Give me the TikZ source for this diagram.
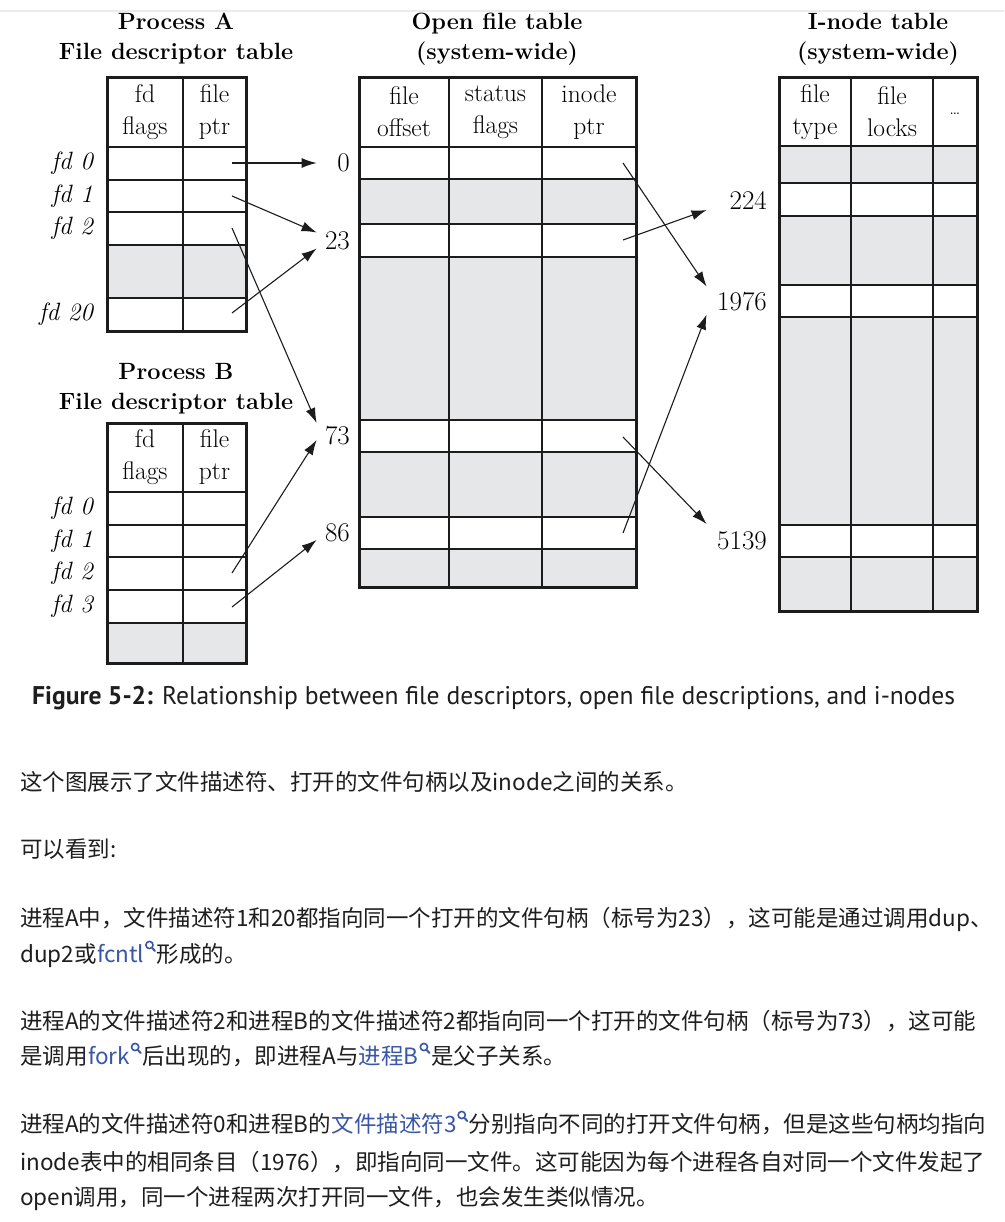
\documentclass[tikz,border=0pt]{standalone}
\usepackage{fontspec}
\usetikzlibrary{positioning,arrows.meta,calc}
\newfontfamily\cjk{Noto Sans CJK SC}
\newfontfamily\capfont{PT Sans}
\definecolor{cellgray}{RGB}{230,231,233}
\definecolor{linecol}{RGB}{28,28,28}
\definecolor{bodytext}{RGB}{30,30,30}
\definecolor{linkblue}{RGB}{57,87,166}

\begin{document}
\begin{tikzpicture}[x=1pt, y=-1pt,
    tabtitle/.style={font=\fontsize{23.5}{30}\selectfont\bfseries, align=center, inner sep=0pt},
    colhead/.style={font=\fontsize{25.5}{32}\selectfont, align=center, inner sep=0pt},
    fdlab/.style={font=\fontsize{25}{30}\selectfont\itshape, anchor=east, inner sep=0pt},
    idxl/.style={font=\fontsize{27}{30}\selectfont, anchor=east, inner sep=0pt, text width=33pt, align=right},
    idxr/.style={idxl, text width=60pt},
    ptr/.style={line width=1.1pt, draw=linecol, -{Latex[length=15pt,width=10pt]}},
    cellline/.style={line width=1.5pt, draw=linecol},
    headline/.style={line width=2.4pt, draw=linecol},
    tableframe/.style={line width=3pt, draw=linecol},
    bodyline/.style={font=\fontsize{22.5}{30}\cjk, text=bodytext, anchor=base west, inner sep=0pt},
    linkline/.style={bodyline, text=linkblue},
    lens/.pic={
        \draw[line width=1.6pt] (5,-17) circle (3.6pt);
        \draw[line width=2pt, line cap=round] (8,-13.8) -- (10.5,-11);
    }]
    \useasboundingbox (0,0) rectangle (1004,1222);
    \fill[white] (0,0) rectangle (1004,1222);
    \draw[black!8, line width=1.5pt] (0,11) -- (1004,11);

    % Process A
    \node[tabtitle] (titA) at (176,39) {Process A\\File descriptor table};
    \fill[cellgray] (107,245) rectangle (246,298);
    \foreach \y in {180,212,245,298}
        \draw[cellline] (107,\y) -- (246,\y);
    \draw[cellline] (183,78) -- (183,331);
    \draw[headline] (107,147) -- (246,147);
    \draw[tableframe] (107,78) rectangle (246,331);
    \node[colhead] (hAfl) at (145,112) {fd\\flags};
    \node[colhead] (hApt) at (214.5,112) {file\\ptr};
    \node[fdlab] (lA0) at (93,163.5) {fd 0};
    \node[fdlab] (lA1) at (93,196) {fd 1};
    \node[fdlab] (lA2) at (93,228.5) {fd 2};
    \node[fdlab] (lA20) at (93,314.5) {fd 20};
    \coordinate (pA0) at (232,163);
    \coordinate (pA1) at (232,196);
    \coordinate (pA2) at (232,228);
    \coordinate (pA20) at (232,313);

    % Process B
    \node[tabtitle] (titB) at (176,389) {Process B\\File descriptor table};
    \fill[cellgray] (107,623) rectangle (246,663);
    \foreach \y in {525,557,590,623}
        \draw[cellline] (107,\y) -- (246,\y);
    \draw[cellline] (183,423) -- (183,663);
    \draw[headline] (107,492) -- (246,492);
    \draw[tableframe] (107,423) rectangle (246,663);
    \node[colhead] (hBfl) at (145,457) {fd\\flags};
    \node[colhead] (hBpt) at (214.5,457) {file\\ptr};
    \node[fdlab] (lB0) at (93,508.5) {fd 0};
    \node[fdlab] (lB1) at (93,541) {fd 1};
    \node[fdlab] (lB2) at (93,573.5) {fd 2};
    \node[fdlab] (lB3) at (93,606.5) {fd 3};
    \coordinate (pB2) at (232,573);
    \coordinate (pB3) at (232,607);

    % Open file table
    \node[tabtitle] (titO) at (497,39) {Open file table\\(system-wide)};
    \foreach \a/\b in {179/224,257/420,452/517,549/587}
        \fill[cellgray] (359,\a) rectangle (636,\b);
    \foreach \y in {179,224,257,420,452,517,549}
        \draw[cellline] (359,\y) -- (636,\y);
    \foreach \x in {449,542}
        \draw[cellline] (\x,78) -- (\x,587);
    \draw[headline] (359,147) -- (636,147);
    \draw[tableframe] (359,78) rectangle (636,587);
    \node[colhead] (hOoff) at (404,112) {file\\offset};
    \node[colhead] (hOst) at (495.5,112) {status\\flags};
    \node[colhead] (hOin) at (589,112) {inode\\ptr};
    \node[idxl] (o0) at (350,163) {0};
    \node[idxl] (o23) at (350,240.5) {23};
    \node[idxl] (o73) at (350,436) {73};
    \node[idxl] (o86) at (350,533) {86};
    \coordinate (p0) at (623,163);
    \coordinate (p23) at (623,240);
    \coordinate (p73) at (623,437);
    \coordinate (p86) at (623,533);

    % I-node table
    \node[tabtitle] (titI) at (878,39) {I-node table\\(system-wide)};
    \foreach \a/\b in {146/183,216/285,317/525,557/611}
        \fill[cellgray] (779,\a) rectangle (977,\b);
    \foreach \y in {183,216,285,317,525,557}
        \draw[cellline] (779,\y) -- (977,\y);
    \foreach \x in {851,933}
        \draw[cellline] (\x,78) -- (\x,611);
    \draw[headline] (779,146) -- (977,146);
    \draw[tableframe] (779,78) rectangle (977,611);
    \node[colhead] (hIty) at (815,112) {file\\type};
    \node[colhead] (hIlk) at (892,112) {file\\locks};
    \node[colhead, font=\fontsize{19}{20}\selectfont] (hIdots) at (955,114) {\ldots};
    \node[idxr] (i224) at (767,200) {224};
    \node[idxr] (i1976) at (767,301.5) {1976};
    \node[idxr] (i5139) at (767,541) {5139};

    % pointers
    \draw[ptr] (pA0) -- (o0.west);
    \draw[ptr] (pA1) -- ([yshift=8pt]o23.west);
    \draw[ptr] (pA20) -- ([yshift=-8pt]o23.west);
    \draw[ptr] (pA2) -- ([yshift=13pt]o73.west);
    \draw[ptr] (pB2) -- ([yshift=-4pt]o73.west);
    \draw[ptr] (pB3) -- ([yshift=-7pt]o86.west);
    \draw[ptr] (p0) -- ([yshift=15pt]i1976.west);
    \draw[ptr] (p23) -- ([yshift=-10pt]i224.west);
    \draw[ptr] (p73) -- ([yshift=17pt]i5139.west);
    \draw[ptr] (p86) -- ([yshift=-13pt]i1976.west);

    % caption
    \node[anchor=base west, inner sep=0pt, text=bodytext] (cap) at (32,704)
        {\resizebox{923pt}{!}{\capfont\fontsize{24}{28}\selectfont\textbf{Figure 5-2:} Relationship between file descriptors, open file descriptions, and i-nodes}};

    % text below
    \node[bodyline] (t1) at (20,790) {这个图展示了文件描述符、打开的文件句柄以及inode之间的关系。};
    \node[bodyline] (t2) at (20,857) {可以看到:};
    \node[bodyline] (t3) at (20,926) {进程A中，文件描述符1和20都指向同一个打开的文件句柄（标号为23），这可能是通过调用dup、};
    \node[bodyline] (t4a) at (20,962) {dup2或};
    \node[linkline] (t4b) at (t4a.base east) {fcntl};
    \pic[linkblue] at (t4b.base east) {lens};
    \node[bodyline] (t4c) at ([xshift=12pt]t4b.base east) {形成的。};
    \node[bodyline] (t5) at (20,1029) {进程A的文件描述符2和进程B的文件描述符2都指向同一个打开的文件句柄（标号为73），这可能};
    \node[bodyline] (t6a) at (20,1064) {是调用};
    \node[linkline] (t6b) at (t6a.base east) {fork};
    \pic[linkblue] at (t6b.base east) {lens};
    \node[bodyline] (t6c) at ([xshift=12pt]t6b.base east) {后出现的，即进程A与};
    \node[linkline] (t6d) at (t6c.base east) {进程B};
    \pic[linkblue] at (t6d.base east) {lens};
    \node[bodyline] (t6e) at ([xshift=12pt]t6d.base east) {是父子关系。};
    \node[bodyline] (t7a) at (20,1132) {进程A的文件描述符0和进程B的};
    \node[linkline] (t7b) at (t7a.base east) {文件描述符3};
    \pic[linkblue] at (t7b.base east) {lens};
    \node[bodyline] (t7c) at ([xshift=12pt]t7b.base east) {分别指向不同的打开文件句柄，但是这些句柄均指向};
    \node[bodyline] (t8) at (20,1170) {inode表中的相同条目（1976），即指向同一文件。这可能因为每个进程各自对同一个文件发起了};
    \node[bodyline] (t9) at (20,1205.5) {open调用，同一个进程两次打开同一文件，也会发生类似情况。};
\end{tikzpicture}
\end{document}
